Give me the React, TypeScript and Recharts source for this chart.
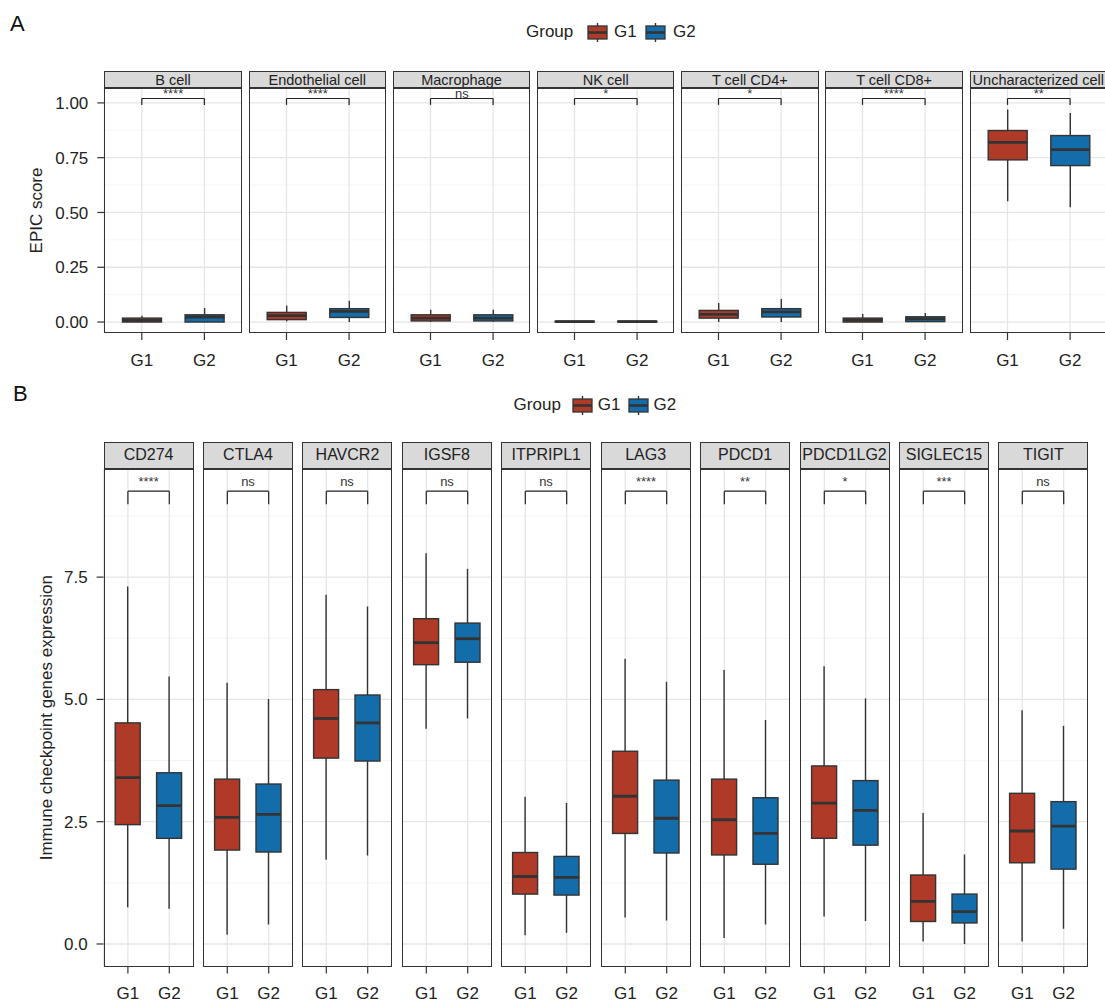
import React from "react";
import { ComposedChart, Bar, XAxis, YAxis, CartesianGrid, ReferenceLine } from "recharts";

const GROUPS = ["G1", "G2"];
const FILLS: Record<string, string> = { G1: "#AF3A28", G2: "#146DAB" };
const INK = "#333333";

// panel A: EPIC scores, [min, q1, median, q3, max]
const cellTypes = ["B cell", "Endothelial cell", "Macrophage", "NK cell", "T cell CD4+", "T cell CD8+", "Uncharacterized cell"];
const cellSig = ["****", "****", "ns", "*", "*", "****", "**"];
const epicG1 = [
  [0, 0.0, 0.008, 0.018, 0.029],
  [0.003, 0.011, 0.029, 0.044, 0.075],
  [0, 0.005, 0.018, 0.033, 0.056],
  [0, 0.0, 0.002, 0.004, 0.006],
  [0, 0.018, 0.035, 0.053, 0.087],
  [0, 0.0, 0.009, 0.018, 0.037],
  [0.551, 0.74, 0.82, 0.874, 0.97],
];
const epicG2 = [
  [0, 0.0, 0.023, 0.033, 0.064],
  [0, 0.021, 0.049, 0.061, 0.097],
  [0, 0.005, 0.018, 0.033, 0.056],
  [0, 0.0, 0.002, 0.004, 0.006],
  [0, 0.023, 0.046, 0.061, 0.105],
  [0, 0.002, 0.014, 0.024, 0.041],
  [0.524, 0.714, 0.787, 0.851, 0.954],
];
const epicTicks = [0, 0.25, 0.5, 0.75, 1];
const epicMinor = [0.125, 0.375, 0.625, 0.875];

// panel B: checkpoint gene expression, [min, q1, median, q3, max]
const genes = ["CD274", "CTLA4", "HAVCR2", "IGSF8", "ITPRIPL1", "LAG3", "PDCD1", "PDCD1LG2", "SIGLEC15", "TIGIT"];
const geneSig = ["****", "ns", "ns", "ns", "ns", "****", "**", "*", "***", "ns"];
const exprG1 = [
  [0.75, 2.44, 3.4, 4.52, 7.31],
  [0.19, 1.92, 2.59, 3.37, 5.34],
  [1.72, 3.8, 4.61, 5.2, 7.14],
  [4.4, 5.71, 6.16, 6.65, 7.99],
  [0.18, 1.02, 1.38, 1.87, 3.01],
  [0.54, 2.26, 3.02, 3.94, 5.83],
  [0.12, 1.82, 2.54, 3.37, 5.6],
  [0.56, 2.16, 2.88, 3.64, 5.68],
  [0.05, 0.46, 0.87, 1.41, 2.68],
  [0.05, 1.66, 2.31, 3.08, 4.78],
];
const exprG2 = [
  [0.72, 2.16, 2.83, 3.5, 5.47],
  [0.4, 1.88, 2.65, 3.27, 5.01],
  [1.81, 3.74, 4.52, 5.09, 6.9],
  [4.61, 5.76, 6.24, 6.56, 7.67],
  [0.23, 1.0, 1.36, 1.79, 2.88],
  [0.48, 1.86, 2.57, 3.35, 5.36],
  [0.4, 1.63, 2.26, 2.99, 4.58],
  [0.47, 2.02, 2.73, 3.34, 5.02],
  [0.0, 0.43, 0.66, 1.02, 1.83],
  [0.31, 1.53, 2.41, 2.91, 4.46],
];
const exprTicks = [0, 2.5, 5, 7.5];
const exprMinor = [1.25, 3.75, 6.25, 8.75];

const TOP_PAD = 24;

const toRows = (g1: number[], g2: number[]) =>
  [g1, g2].map((s, i) => ({ group: GROUPS[i], min: s[0], q1: s[1], median: s[2], q3: s[3], max: s[4] }));

function BoxShape(props: any) {
  const { x, y, width, height, payload } = props;
  const s = payload;
  if (s.max === s.min) return null;
  const top = Math.min(y, y + height);
  const span = Math.abs(height);
  const py = (v: number) => top + (span * (s.max - v)) / (s.max - s.min);
  const cx = x + width / 2;
  const q3 = py(s.q3);
  const q1 = py(s.q1);
  return (
    <g>
      <line x1={cx} x2={cx} y1={py(s.max)} y2={q3} stroke={INK} strokeWidth={1.4} />
      <line x1={cx} x2={cx} y1={q1} y2={py(s.min)} stroke={INK} strokeWidth={1.4} />
      <rect x={x} y={q3} width={width} height={Math.max(q1 - q3, 0.5)} fill={FILLS[s.group]} stroke={INK} strokeWidth={1.4} />
      <line x1={x} x2={x + width} y1={py(s.median)} y2={py(s.median)} stroke={INK} strokeWidth={2.8} />
    </g>
  );
}

type FacetProps = {
  title: string;
  sig: string;
  rows: any[];
  left: number;
  width: number;
  plotTop: number;
  plotH: number;
  stripH: number;
  stripFont: number;
  domain: [number, number];
  ticks: number[];
  minor: number[];
  digits: number;
  bracket: [number, number];
  sigOffset: number;
  barSize: number;
  pad: number;
  yLabel?: string;
  yLabelX?: number;
};

function Facet(p: FacetProps) {
  const showY = !!p.yLabel;
  const chartLeft = showY ? 0 : p.left;
  const chartW = showY ? p.left + p.width : p.width;
  const [lo, hi] = p.bracket;
  return (
    <>
      <div
        style={{
          position: "absolute",
          left: p.left,
          top: p.plotTop - p.stripH,
          width: p.width,
          height: p.stripH,
          boxSizing: "border-box",
          border: `1.3px solid ${INK}`,
          background: "#D9D9D9",
          display: "flex",
          alignItems: "center",
          justifyContent: "center",
          fontSize: p.stripFont,
          color: "#222",
          whiteSpace: "nowrap",
          overflow: "hidden",
        }}
      >
        {p.title}
      </div>
      <div style={{ position: "absolute", left: chartLeft, top: p.plotTop - TOP_PAD }}>
        <ComposedChart width={chartW} height={p.plotH + 44 + TOP_PAD} data={p.rows} margin={{ top: TOP_PAD, right: 0, bottom: 0, left: 0 }}>
          <CartesianGrid horizontalValues={p.minor} vertical={false} stroke="#F0F0F0" strokeWidth={0.7} />
          <CartesianGrid horizontalValues={p.ticks} stroke="#E6E6E6" strokeWidth={1.3} />
          <XAxis
            dataKey="group"
            height={44}
            interval={0}
            padding={{ left: p.pad, right: p.pad }}
            axisLine={false}
            tickSize={7}
            tickMargin={14}
            tickLine={{ stroke: INK, strokeWidth: 1.2 }}
            tick={{ fontSize: 17, fill: "#222" }}
          />
          <YAxis
            type="number"
            hide={!showY}
            width={showY ? p.left : 0}
            domain={p.domain}
            ticks={p.ticks}
            allowDataOverflow
            axisLine={false}
            tickSize={7}
            tickMargin={9}
            tickLine={{ stroke: INK, strokeWidth: 1.2 }}
            tick={{ fontSize: 17, fill: "#222" }}
            tickFormatter={(v: number) => v.toFixed(p.digits)}
            label={
              showY
                ? { value: p.yLabel, angle: -90, position: "insideLeft", offset: p.yLabelX, fontSize: 17, fill: "#222", style: { textAnchor: "middle" } }
                : undefined
            }
          />
          <Bar dataKey={(d: any) => [d.min, d.max]} barSize={p.barSize} shape={BoxShape} isAnimationActive={false} />
          <ReferenceLine segment={[{ x: "G1", y: lo }, { x: "G1", y: hi }]} stroke="#222" strokeWidth={1.2} ifOverflow="visible" />
          <ReferenceLine segment={[{ x: "G2", y: lo }, { x: "G2", y: hi }]} stroke="#222" strokeWidth={1.2} ifOverflow="visible" />
          <ReferenceLine
            segment={[{ x: "G1", y: hi }, { x: "G2", y: hi }]}
            stroke="#222"
            strokeWidth={1.2}
            ifOverflow="visible"
            label={{ value: p.sig, position: "top", offset: p.sigOffset, fontSize: 13, fill: "#333" }}
          />
        </ComposedChart>
      </div>
      <div
        style={{
          position: "absolute",
          left: p.left,
          top: p.plotTop,
          width: p.width,
          height: p.plotH,
          boxSizing: "border-box",
          border: `1.3px solid ${INK}`,
          pointerEvents: "none",
        }}
      />
    </>
  );
}

function KeyGlyph({ color }: { color: string }) {
  return (
    <svg width={21} height={19} style={{ display: "block" }}>
      <line x1={10.5} x2={10.5} y1={0} y2={19} stroke={INK} strokeWidth={1.4} />
      <rect x={1} y={3} width={19} height={13} fill={color} stroke={INK} strokeWidth={1.3} />
      <line x1={1} x2={20} y1={9.5} y2={9.5} stroke={INK} strokeWidth={2.6} />
    </svg>
  );
}

function GroupLegend({ cy, xs }: { cy: number; xs: number[] }) {
  const txt = (x: number, s: string) => (
    <div style={{ position: "absolute", left: x, top: cy - 11, height: 22, lineHeight: "22px", fontSize: 17, color: "#222" }}>{s}</div>
  );
  return (
    <>
      {txt(xs[0], "Group")}
      <div style={{ position: "absolute", left: xs[1], top: cy - 9.5 }}>
        <KeyGlyph color={FILLS.G1} />
      </div>
      {txt(xs[2], "G1")}
      <div style={{ position: "absolute", left: xs[3], top: cy - 9.5 }}>
        <KeyGlyph color={FILLS.G2} />
      </div>
      {txt(xs[4], "G2")}
    </>
  );
}

export default function App() {
  return (
    <div
      style={{
        position: "absolute",
        left: 0,
        top: 0,
        width: 1105,
        height: 1004,
        overflow: "hidden",
        background: "#fff",
        fontFamily: "'Liberation Sans', Arial, sans-serif",
      }}
    >
      <div style={{ position: "absolute", left: 10, top: 11, fontSize: 22, color: "#111" }}>A</div>
      <GroupLegend cy={32} xs={[526, 587, 614, 644.5, 673]} />
      {cellTypes.map((c, i) => (
        <Facet
          key={c}
          title={c}
          sig={cellSig[i]}
          rows={toRows(epicG1[i], epicG2[i])}
          left={104.3 + i * 144.2}
          width={137.6}
          plotTop={88.3}
          plotH={245}
          stripH={17}
          stripFont={14.5}
          domain={[-0.05, 1.068]}
          ticks={epicTicks}
          minor={epicMinor}
          digits={2}
          bracket={[0.991, 1.02]}
          sigOffset={1}
          barSize={39}
          pad={6.2}
          yLabel={i === 0 ? "EPIC score" : undefined}
          yLabelX={36}
        />
      ))}

      <div style={{ position: "absolute", left: 13, top: 381, fontSize: 22, color: "#111" }}>B</div>
      <GroupLegend cy={405} xs={[513.6, 571.7, 597.7, 628.3, 653.5]} />
      {genes.map((g, i) => (
        <Facet
          key={g}
          title={g}
          sig={geneSig[i]}
          rows={toRows(exprG1[i], exprG2[i])}
          left={103.6 + i * 99.42}
          width={90}
          plotTop={469.3}
          plotH={497.4}
          stripH={27.6}
          stripFont={16}
          domain={[-0.458, 9.71]}
          ticks={exprTicks}
          minor={exprMinor}
          digits={1}
          bracket={[8.99, 9.256]}
          sigOffset={5}
          barSize={25}
          pad={3.6}
          yLabel={i === 0 ? "Immune checkpoint genes expression" : undefined}
          yLabelX={46}
        />
      ))}
    </div>
  );
}
